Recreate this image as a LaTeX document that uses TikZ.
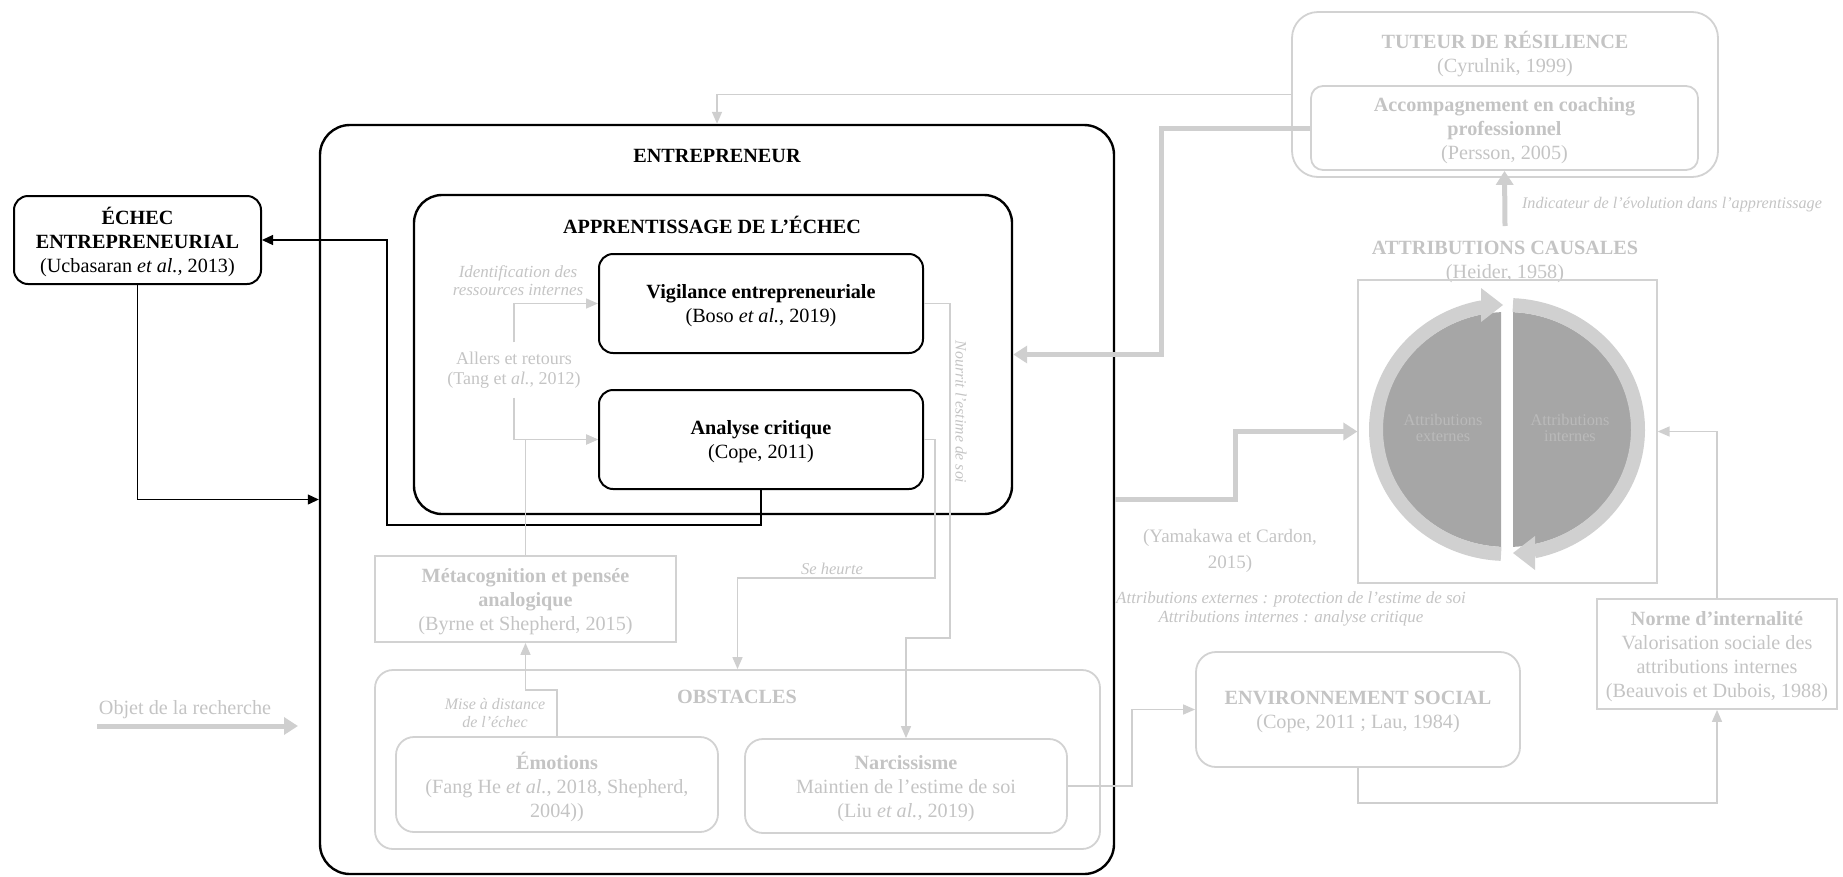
\documentclass[tikz,border=0pt]{standalone}
\usepackage{fontspec}
\setmainfont{Liberation Serif}
\usetikzlibrary{arrows.meta,calc}
\definecolor{gline}{HTML}{CFCFCF}
\definecolor{gtext}{HTML}{C4C4C4}
\definecolor{gbox}{HTML}{D2D2D2}
\definecolor{ring}{HTML}{D0D0D0}
\definecolor{dark}{HTML}{A6A6A6}
\definecolor{ctext}{HTML}{BABABA}
\begin{document}
\begin{tikzpicture}[x=1pt,y=-1pt,
  mainfont/.style={font=\fontsize{20.2}{24}\selectfont},
  smallit/.style={font=\fontsize{16.5}{18}\selectfont\itshape, text=gtext, align=center, inner sep=0},
  bbox/.style={draw=black, line width=2, rounded corners=14, align=center, inner sep=0, text depth=-4pt, mainfont},
  gboxr/.style={draw=gbox, line width=1.8, rounded corners=14, align=center, inner sep=0, text depth=-4pt, mainfont, text=gtext},
  gboxs/.style={draw=gbox, line width=1.8, align=center, inner sep=0, text depth=-4pt, mainfont, text=gtext},
  barrow/.style={draw=black, line width=1.2, -{Triangle[length=11pt,width=10pt]}},
  garrow/.style={draw=gline, line width=1.5, -{Triangle[length=12pt,width=10pt]}},
  gthick/.style={draw=gline, line width=5, -{Triangle[length=14pt,width=17pt]}},
  gtxt/.style={mainfont, text=gtext, align=center, inner sep=0},
]
\useasboundingbox (0,0) rectangle (1843,876);

% ---- main black boxes
\node[bbox, line width=2.4, rounded corners=30, minimum width=794pt, minimum height=749pt] (entre) at (717,499.5) {};
\node[font=\fontsize{20.2}{25}\selectfont\bfseries, inner sep=0] (tentre) at (717,156) {ENTREPRENEUR};
\node[bbox, line width=2.4, rounded corners=28, minimum width=598pt, minimum height=319pt] (appr) at (713,354.5) {};
\node[font=\fontsize{20.2}{25}\selectfont\bfseries, inner sep=0] (tappr) at (712,225) {APPRENTISSAGE DE L’ÉCHEC};
\node[bbox, minimum width=324pt, minimum height=99pt] (vig) at (761,303.5) {\textbf{Vigilance entrepreneuriale}\\(Boso \textit{et al.}, 2019)};
\node[bbox, minimum width=324pt, minimum height=99pt] (ana) at (761,439.5) {\textbf{Analyse critique}\\(Cope, 2011)};
\node[bbox, minimum width=247pt, minimum height=88pt] (echec) at (137.5,240) {\textbf{ÉCHEC}\\\textbf{ENTREPRENEURIAL}\\(Ucbasaran \textit{et al.,} 2013)};

% ---- grey boxes inside entrepreneur
\node[gboxs, minimum width=301pt, minimum height=86pt] (meta) at (525.5,599) {\textbf{Métacognition et pensée}\\\textbf{analogique}\\(Byrne et Shepherd, 2015)};
\node[gboxr, rounded corners=18, minimum width=725pt, minimum height=179pt] (obst) at (737.5,759.5) {};
\node[gtxt, font=\fontsize{20.2}{24}\selectfont\bfseries] (tobst) at (737,697) {OBSTACLES};
\node[gboxr, rounded corners=18, minimum width=322pt, minimum height=95pt] (emo) at (557,784.5) {\textbf{Émotions}\\(Fang He \textit{et al.}, 2018, Shepherd,\\2004))};
\node[gboxr, rounded corners=18, minimum width=322pt, minimum height=94pt] (narc) at (906,786) {\textbf{Narcissisme}\\Maintien de l’estime de soi\\(Liu \textit{et al.}, 2019)};
\node[gtxt, font=\fontsize{18}{20.5}\selectfont, inner ysep=9pt] (allers) at (514,370) {Allers et retours\\(Tang et \textit{al.}, 2012)};

% ---- right side
\node[gboxr, rounded corners=26, minimum width=426pt, minimum height=165pt] (tut) at (1505,94.5) {};
\node[gtxt] (ttut) at (1505,54.5) {\textbf{TUTEUR DE RÉSILIENCE}\\(Cyrulnik, 1999)};
\node[gboxr, rounded corners=12, minimum width=387pt, minimum height=84pt] (coach) at (1504.5,128) {\textbf{Accompagnement en coaching}\\\textbf{professionnel}\\(Persson, 2005)};
\node[gtxt] (tattr) at (1505,261.5) {\textbf{ATTRIBUTIONS CAUSALES}\\(Heider, 1958)};
\node[draw=gbox, line width=1.2, minimum width=299pt, minimum height=303pt, inner sep=0] (rect) at (1507.5,431.5) {};
\node[gboxr, rounded corners=20, minimum width=324pt, minimum height=115pt] (env) at (1358,709.5) {\textbf{ENVIRONNEMENT SOCIAL}\\(Cope, 2011 ; Lau, 1984)};
\node[gboxs, minimum width=240pt, minimum height=110pt] (norme) at (1717,654) {\textbf{Norme d’internalité}\\Valorisation sociale des\\attributions internes\\(Beauvois et Dubois, 1988)};

% ---- circle of attributions
\begin{scope}
  \clip (1300,250) rectangle (1501,620);
  \fill[dark] (1507,429.5) ellipse [x radius=124.5pt, y radius=117.5pt];
\end{scope}
\begin{scope}
  \clip (1513,250) rectangle (1700,620);
  \fill[dark] (1507,429.5) ellipse [x radius=124.5pt, y radius=117.5pt];
\end{scope}
\draw[ring, line width=14] plot[domain=92.6:259, samples=80] ({1507+131*cos(\x)},{429.5+124.5*sin(\x)});
\fill[ring] (1481,288) -- (1503,305) -- (1481,322) -- cycle;
\draw[ring, line width=14] plot[domain=-87.4:78, samples=80] ({1507+131*cos(\x)},{429.5+124.5*sin(\x)});
\fill[ring] (1535,536) -- (1513,553) -- (1535,570) -- cycle;
\node[font=\fontsize{16.3}{16.5}\selectfont, text=ctext, align=center, inner sep=0] (cext) at (1443,428) {Attributions\\externes};
\node[font=\fontsize{16.3}{16.5}\selectfont, text=ctext, align=center, inner sep=0] (cint) at (1570,428) {Attributions\\internes};

% ---- labels
\node[smallit, font=\fontsize{17}{18}\selectfont\itshape] (lid) at (518,281) {Identification des\\ressources internes};
\node[smallit, font=\fontsize{15.8}{18}\selectfont\itshape, rotate=-90] (lnour) at (961,412) {Nourrit l’estime de soi};
\node[smallit] (lse) at (832,569) {Se heurte};
\node[smallit, font=\fontsize{16}{18.5}\selectfont\itshape] (lmise) at (495,713) {Mise à distance\\de l’échec};
\node[smallit, font=\fontsize{16.2}{18}\selectfont\itshape] (lind) at (1672,205) {Indicateur de l’évolution dans l’apprentissage};
\node[gtxt, font=\fontsize{19}{26}\selectfont] (yama) at (1230,551) {(Yamakawa et Cardon,\\2015)};
\node[smallit, font=\fontsize{17}{18.5}\selectfont\itshape] (lattr) at (1291,609) {Attributions externes : protection de l’estime de soi\\Attributions internes : analyse critique};
\node[gtxt, font=\fontsize{20.2}{22}\selectfont] (objet) at (185,710) {Objet de la recherche};
\coordinate (o1) at (97,726);
\coordinate (o2) at (298,726);
\coordinate (attrtop) at (1505,226);

% ---- black connectors
\draw[barrow] (ana.south) |- (387,525) |- (echec.east);
\draw[barrow] (echec.south) |- (entre.west);

% ---- grey connectors
\draw[garrow] (tut.west) -| (entre.north);
\draw[gthick] (coach.west) -| (1161,240) |- (appr.east);
\draw[gthick] (entre.east) -| (1235,460) |- (rect.west);
\draw[gthick] (attrtop) -- (coach.south);
\draw[garrow] (norme.north) |- (rect.east);
\draw[garrow] (env.south) -- (env.south |- 0,803) -| (norme.south);
\draw[garrow] (narc.east) -| (1132,750) |- (env.west);
\draw[garrow] (vig.east) -| (950,638) -| (narc.north);
\draw[garrow] (ana.east) -| (935,578) -| (obst.north);
\draw[garrow] (allers.north) |- (vig.west);
\draw[garrow] (allers.south) |- (ana.west);
\draw[garrow] (meta.north) |- (ana.west);
\draw[garrow] (emo.north) -- (emo.north |- 0,690) -| (meta.south);
\draw[gthick] (o1) -- (o2);
\end{tikzpicture}
\end{document}
